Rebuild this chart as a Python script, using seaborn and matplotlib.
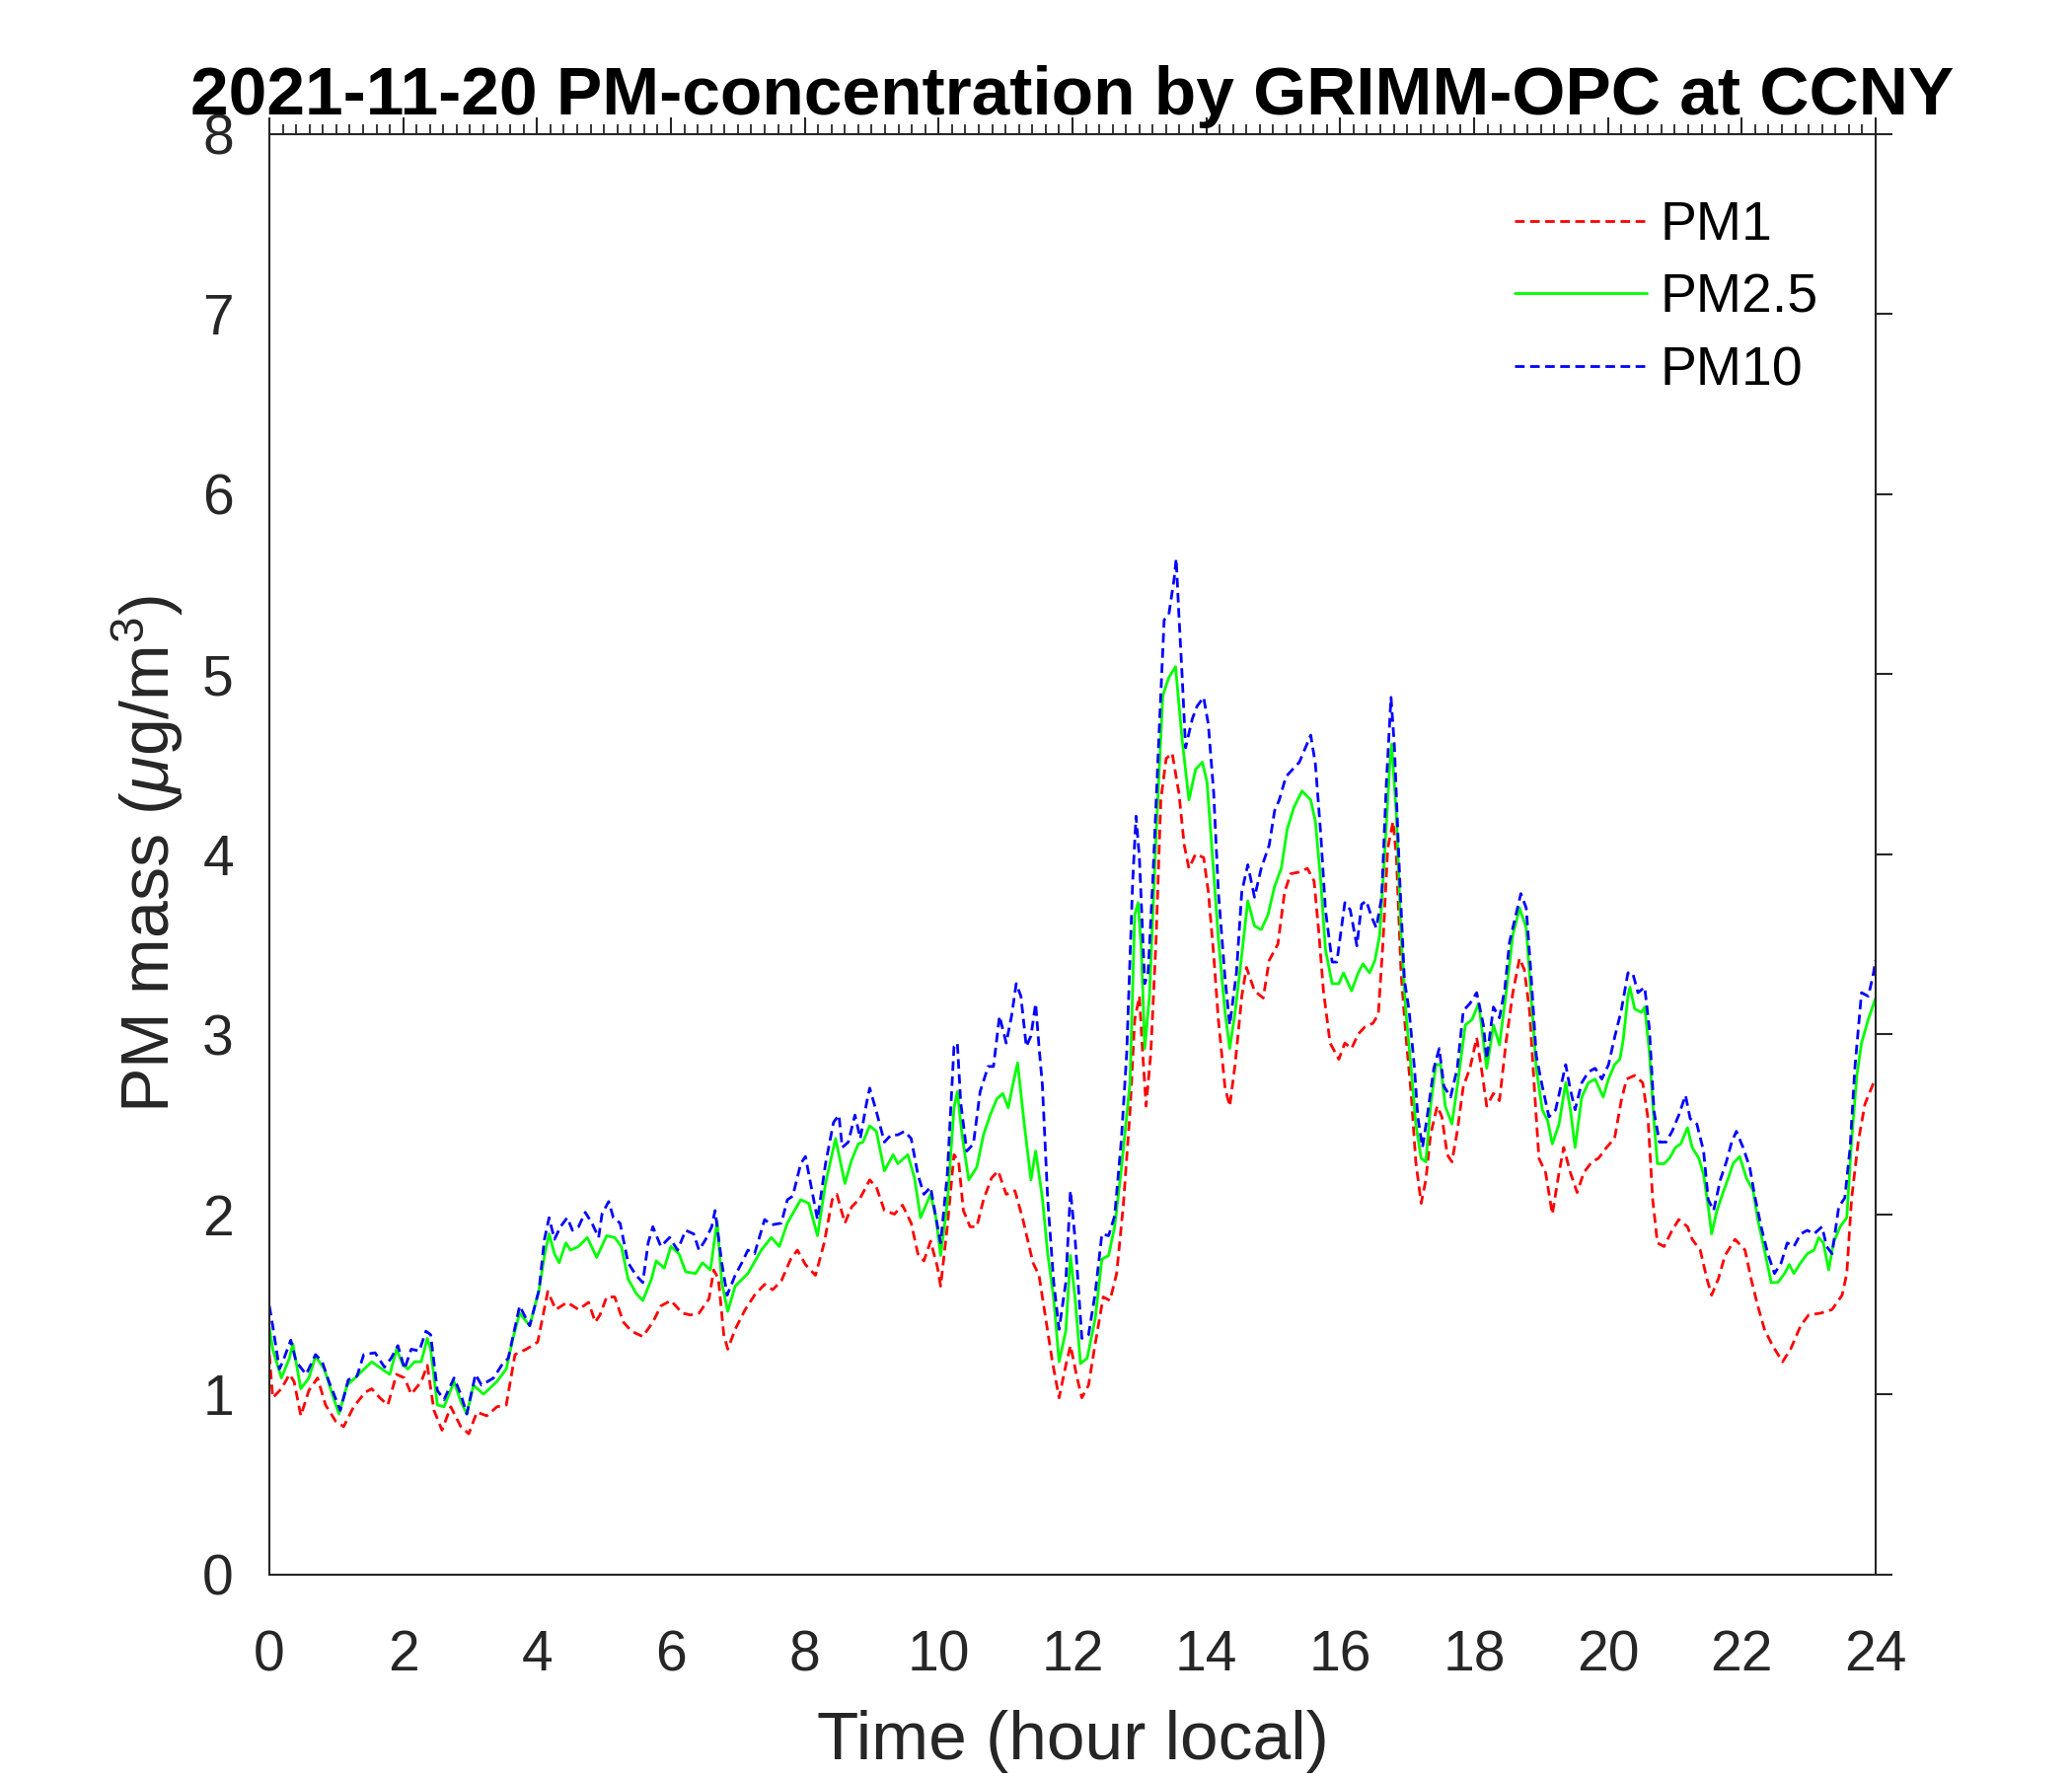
import matplotlib
matplotlib.use("Agg")
import matplotlib.pyplot as plt
from matplotlib.ticker import MultipleLocator
import seaborn as sns

# ── data ──────────────────────────────────────────────────
t_pm25 = [0.00, 0.05, 0.18, 0.30, 0.35, 0.47, 0.59, 0.69, 0.82, 0.94, 1.04, 1.16, 1.28, 1.53, 1.68, 1.80,
          1.90, 2.00, 2.07, 2.17, 2.27, 2.36, 2.41, 2.51, 2.61, 2.76, 2.86, 2.95, 3.05, 3.20, 3.40, 3.54,
          3.64, 3.74, 3.89, 4.03, 4.11, 4.18, 4.26, 4.33, 4.43, 4.50, 4.62, 4.75, 4.89, 5.04, 5.16, 5.26,
          5.36, 5.48, 5.58, 5.71, 5.78, 5.90, 6.00, 6.12, 6.22, 6.37, 6.47, 6.59, 6.69, 6.76, 6.85, 6.96,
          7.15, 7.35, 7.50, 7.62, 7.74, 7.94, 8.06, 8.19, 8.31, 8.46, 8.60, 8.70, 8.80, 8.87, 8.97, 9.07,
          9.19, 9.32, 9.39, 9.54, 9.64, 9.73, 9.88, 9.96, 10.03, 10.13, 10.23, 10.28, 10.35, 10.45, 10.57,
          10.67, 10.77, 10.87, 10.96, 11.04, 11.11, 11.18, 11.28, 11.38, 11.45, 11.55, 11.63, 11.72, 11.80,
          11.90, 11.97, 12.04, 12.12, 12.22, 12.34, 12.44, 12.54, 12.63, 12.73, 12.86, 12.93, 12.98, 13.03,
          13.08, 13.15, 13.25, 13.35, 13.44, 13.54, 13.64, 13.74, 13.84, 13.94, 14.01, 14.08, 14.18, 14.28,
          14.35, 14.43, 14.53, 14.62, 14.72, 14.82, 14.92, 15.02, 15.12, 15.21, 15.31, 15.43, 15.56, 15.63,
          15.71, 15.78, 15.88, 15.98, 16.05, 16.17, 16.27, 16.34, 16.44, 16.52, 16.59, 16.66, 16.74, 16.77,
          16.84, 16.91, 16.98, 17.06, 17.13, 17.21, 17.28, 17.35, 17.43, 17.50, 17.57, 17.67, 17.75, 17.87,
          17.97, 18.07, 18.14, 18.19, 18.29, 18.38, 18.48, 18.58, 18.68, 18.78, 18.85, 18.93, 19.02, 19.10,
          19.17, 19.27, 19.37, 19.44, 19.51, 19.61, 19.71, 19.81, 19.93, 20.01, 20.10, 20.18, 20.23, 20.30,
          20.33, 20.40, 20.50, 20.55, 20.62, 20.69, 20.74, 20.84, 20.92, 21.01, 21.09, 21.19, 21.26, 21.36,
          21.43, 21.50, 21.55, 21.63, 21.73, 21.80, 21.87, 21.97, 22.07, 22.17, 22.24, 22.34, 22.44, 22.54,
          22.64, 22.71, 22.78, 22.88, 22.98, 23.08, 23.15, 23.22, 23.30, 23.37, 23.47, 23.57, 23.64, 23.72,
          23.79, 23.89, 23.99, 24.00]
pm25 = [1.37, 1.25, 1.09, 1.20, 1.28, 1.03, 1.09, 1.21, 1.14, 1.00, 0.89, 1.05, 1.09, 1.18, 1.14, 1.11,
        1.25, 1.16, 1.14, 1.18, 1.18, 1.31, 1.25, 0.94, 0.93, 1.07, 0.96, 0.89, 1.05, 1.00, 1.07, 1.14,
        1.31, 1.45, 1.38, 1.58, 1.77, 1.89, 1.78, 1.73, 1.84, 1.80, 1.82, 1.87, 1.76, 1.88, 1.87, 1.82,
        1.64, 1.56, 1.52, 1.64, 1.74, 1.70, 1.82, 1.78, 1.68, 1.67, 1.73, 1.69, 1.96, 1.62, 1.46, 1.60,
        1.67, 1.80, 1.87, 1.82, 1.95, 2.08, 2.06, 1.88, 2.17, 2.42, 2.17, 2.30, 2.39, 2.40, 2.49, 2.46,
        2.24, 2.33, 2.28, 2.33, 2.20, 1.98, 2.11, 1.98, 1.77, 2.06, 2.59, 2.68, 2.44, 2.19, 2.26,
        2.44, 2.55, 2.64, 2.67, 2.59, 2.72, 2.84, 2.50, 2.19, 2.35, 2.09, 1.78, 1.53, 1.18,
        1.35, 1.77, 1.53, 1.17, 1.20, 1.42, 1.75, 1.77, 1.93, 2.25, 2.73, 3.66, 3.73, 3.47,
        2.92, 3.21, 4.11, 4.88, 4.98, 5.04, 4.63, 4.30, 4.47, 4.51, 4.40, 4.05, 3.53, 3.12,
        2.92, 3.12, 3.44, 3.74, 3.60, 3.58, 3.66, 3.82, 3.92, 4.14, 4.26, 4.35, 4.30, 4.18,
        3.85, 3.47, 3.28, 3.28, 3.34, 3.24, 3.34, 3.39, 3.34, 3.41, 3.55, 3.97, 4.49, 4.61,
        4.22, 3.55, 3.13, 2.81, 2.50, 2.31, 2.29, 2.60, 2.83, 2.83, 2.60, 2.50, 2.71, 3.05,
        3.08, 3.17, 2.96, 2.81, 3.05, 2.94, 3.23, 3.55, 3.70, 3.59, 3.23, 2.81, 2.58, 2.52,
        2.39, 2.50, 2.73, 2.58, 2.37, 2.65, 2.73, 2.75, 2.65, 2.75, 2.83, 2.86, 2.97, 3.21,
        3.26, 3.14, 3.12, 3.15, 2.90, 2.51, 2.28, 2.28, 2.31, 2.37, 2.39, 2.48, 2.37, 2.31,
        2.22, 2.04, 1.89, 2.02, 2.13, 2.20, 2.28, 2.32, 2.20, 2.13, 1.97, 1.80, 1.62, 1.62,
        1.67, 1.72, 1.67, 1.73, 1.78, 1.80, 1.87, 1.84, 1.69, 1.84, 1.93, 1.98, 2.40, 2.77,
        2.95, 3.08, 3.19, 3.20]

t_pm10 = [0.00, 0.05, 0.15, 0.20, 0.32, 0.40, 0.55, 0.69, 0.79, 0.89, 1.06, 1.18, 1.31, 1.41, 1.58, 1.72,
          1.82, 1.92, 2.02, 2.12, 2.24, 2.34, 2.41, 2.51, 2.61, 2.76, 2.86, 2.95, 3.08, 3.17, 3.35, 3.47,
          3.57, 3.74, 3.89, 4.03, 4.11, 4.18, 4.26, 4.35, 4.45, 4.53, 4.62, 4.72, 4.82, 4.92, 4.97, 5.07,
          5.14, 5.24, 5.36, 5.48, 5.58, 5.66, 5.73, 5.85, 5.98, 6.10, 6.22, 6.34, 6.42, 6.52, 6.61, 6.66,
          6.76, 6.84, 6.96, 7.06, 7.15, 7.25, 7.40, 7.50, 7.65, 7.74, 7.82, 7.94, 8.01, 8.19, 8.31, 8.43,
          8.51, 8.56, 8.65, 8.75, 8.83, 8.92, 8.97, 9.07, 9.19, 9.29, 9.39, 9.49, 9.59, 9.69, 9.78, 9.88,
          9.96, 10.03, 10.13, 10.23, 10.28, 10.33, 10.42, 10.52, 10.62, 10.74, 10.82, 10.91, 11.01, 11.09,
          11.16, 11.23, 11.31, 11.38, 11.45, 11.50, 11.55, 11.63, 11.72, 11.80, 11.90, 11.97, 12.04, 12.14,
          12.24, 12.34, 12.44, 12.54, 12.63, 12.73, 12.81, 12.90, 12.95, 13.00, 13.08, 13.13, 13.20, 13.30,
          13.37, 13.44, 13.52, 13.55, 13.59, 13.64, 13.69, 13.79, 13.86, 13.96, 14.03, 14.11, 14.18, 14.28,
          14.35, 14.45, 14.53, 14.62, 14.72, 14.82, 14.94, 15.02, 15.09, 15.19, 15.29, 15.39, 15.48, 15.56,
          15.63, 15.71, 15.78, 15.88, 15.95, 16.07, 16.15, 16.25, 16.32, 16.39, 16.47, 16.54, 16.62, 16.69,
          16.76, 16.81, 16.89, 16.96, 17.03, 17.11, 17.16, 17.23, 17.30, 17.40, 17.48, 17.55, 17.65, 17.75,
          17.84, 17.94, 18.04, 18.14, 18.19, 18.29, 18.38, 18.46, 18.53, 18.63, 18.70, 18.78, 18.85, 18.93,
          19.02, 19.12, 19.22, 19.37, 19.44, 19.51, 19.61, 19.71, 19.81, 19.91, 20.01, 20.10, 20.20, 20.30,
          20.37, 20.45, 20.55, 20.62, 20.69, 20.77, 20.87, 20.96, 21.06, 21.16, 21.23, 21.33, 21.43, 21.50,
          21.58, 21.68, 21.77, 21.85, 21.92, 22.02, 22.12, 22.19, 22.29, 22.39, 22.49, 22.59, 22.68, 22.78,
          22.88, 22.98, 23.08, 23.20, 23.27, 23.35, 23.45, 23.54, 23.62, 23.69, 23.79, 23.89, 23.96, 24.00]
pm10 = [1.49, 1.38, 1.14, 1.18, 1.30, 1.18, 1.11, 1.22, 1.18, 1.07, 0.91, 1.08, 1.10, 1.22, 1.23, 1.15,
        1.20, 1.27, 1.14, 1.25, 1.24, 1.35, 1.33, 1.02, 0.97, 1.09, 1.00, 0.89, 1.11, 1.05, 1.09, 1.16,
        1.20, 1.49, 1.38, 1.58, 1.86, 1.98, 1.86, 1.93, 1.98, 1.91, 1.93, 2.01, 1.95, 1.87, 2.00, 2.07,
        1.98, 1.95, 1.73, 1.66, 1.62, 1.84, 1.93, 1.82, 1.87, 1.80, 1.91, 1.89, 1.80, 1.86, 1.93, 2.02,
        1.73, 1.55, 1.66, 1.73, 1.80, 1.78, 1.97, 1.94, 1.95, 2.08, 2.10, 2.28, 2.32, 1.97, 2.28, 2.51,
        2.55, 2.37, 2.40, 2.55, 2.42, 2.61, 2.70, 2.57, 2.40, 2.44, 2.44, 2.46, 2.42, 2.22, 2.11, 2.15,
        1.98, 1.84, 2.22, 2.93, 2.95, 2.62, 2.35, 2.39, 2.68, 2.82, 2.82, 3.10, 2.95, 3.10,
        3.28, 3.21, 2.93, 2.99, 3.17, 2.93, 2.72, 2.08, 1.62, 1.36, 1.62, 2.13, 1.86, 1.31,
        1.33, 1.56, 1.89, 1.88, 1.99, 2.41, 2.89, 3.85, 4.21, 3.98, 3.28, 3.34, 3.85, 4.72,
        5.30, 5.33, 5.53, 5.64, 5.33, 4.98, 4.59, 4.75, 4.82, 4.87, 4.72, 4.34, 3.79, 3.31,
        3.05, 3.34, 3.79, 3.94, 3.76, 3.92, 4.05, 4.24, 4.30, 4.43, 4.47, 4.51, 4.59, 4.66,
        4.50, 4.11, 3.69, 3.40, 3.40, 3.73, 3.69, 3.49, 3.72, 3.74, 3.65, 3.59, 3.76, 4.39,
        4.87, 4.60, 3.86, 3.30, 3.13, 2.81, 2.54, 2.37, 2.54, 2.81, 2.92, 2.71, 2.65, 2.81,
        3.13, 3.17, 3.23, 3.05, 2.86, 3.15, 3.09, 3.25, 3.51, 3.67, 3.78, 3.70, 3.34, 2.88,
        2.71, 2.54, 2.58, 2.83, 2.69, 2.58, 2.73, 2.79, 2.81, 2.75, 2.83, 2.98, 3.13, 3.34,
        3.34, 3.23, 3.26, 3.03, 2.57, 2.40, 2.40, 2.46, 2.55, 2.66, 2.53, 2.50, 2.35, 2.08,
        2.02, 2.19, 2.29, 2.40, 2.46, 2.37, 2.26, 2.11, 1.93, 1.78, 1.67, 1.73, 1.84, 1.82,
        1.89, 1.91, 1.89, 1.93, 1.82, 1.78, 2.04, 2.09, 2.37, 2.81, 3.23, 3.21, 3.32, 3.41]

t_pm1 = [0.00, 0.05, 0.18, 0.30, 0.37, 0.47, 0.59, 0.72, 0.84, 0.99, 1.11, 1.26, 1.43, 1.53, 1.65, 1.77,
         1.90, 2.02, 2.12, 2.27, 2.36, 2.46, 2.58, 2.71, 2.86, 2.98, 3.10, 3.25, 3.40, 3.54, 3.67, 3.84,
         4.01, 4.16, 4.28, 4.45, 4.62, 4.77, 4.87, 4.94, 5.04, 5.16, 5.29, 5.41, 5.58, 5.73, 5.85, 6.00,
         6.17, 6.29, 6.42, 6.57, 6.64, 6.71, 6.79, 6.85, 6.96, 7.11, 7.25, 7.40, 7.52, 7.65, 7.79, 7.89,
         8.01, 8.16, 8.29, 8.41, 8.48, 8.60, 8.70, 8.83, 8.97, 9.07, 9.19, 9.34, 9.46, 9.59, 9.69, 9.78,
         9.88, 9.98, 10.03, 10.13, 10.23, 10.30, 10.37, 10.47, 10.57, 10.67, 10.79, 10.89, 11.01, 11.14,
         11.26, 11.41, 11.50, 11.60, 11.70, 11.80, 11.90, 11.97, 12.07, 12.14, 12.24, 12.34, 12.46, 12.56,
         12.66, 12.76, 12.86, 12.93, 13.00, 13.05, 13.10, 13.17, 13.25, 13.32, 13.40, 13.49, 13.59, 13.67,
         13.74, 13.84, 13.96, 14.03, 14.11, 14.18, 14.28, 14.35, 14.43, 14.53, 14.60, 14.72, 14.85, 14.94,
         15.07, 15.17, 15.26, 15.39, 15.51, 15.61, 15.68, 15.75, 15.85, 15.98, 16.07, 16.17, 16.27, 16.37,
         16.49, 16.57, 16.64, 16.71, 16.79, 16.84, 16.91, 16.98, 17.06, 17.13, 17.21, 17.28, 17.35, 17.45,
         17.52, 17.60, 17.67, 17.75, 17.84, 17.94, 18.04, 18.11, 18.19, 18.29, 18.38, 18.48, 18.58, 18.68,
         18.75, 18.83, 18.90, 18.97, 19.07, 19.17, 19.27, 19.34, 19.44, 19.54, 19.64, 19.76, 19.86, 19.98,
         20.10, 20.20, 20.28, 20.40, 20.52, 20.60, 20.67, 20.74, 20.84, 20.96, 21.06, 21.19, 21.26, 21.38,
         21.48, 21.55, 21.65, 21.75, 21.90, 22.05, 22.14, 22.24, 22.34, 22.46, 22.61, 22.73, 22.88, 23.00,
         23.18, 23.35, 23.50, 23.57, 23.64, 23.74, 23.84, 23.96, 24.00]
pm1 = [1.22, 0.98, 1.03, 1.11, 1.07, 0.88, 1.02, 1.09, 0.94, 0.85, 0.82, 0.93, 1.01, 1.03, 0.98, 0.94,
       1.11, 1.09, 1.00, 1.07, 1.16, 0.91, 0.80, 0.93, 0.82, 0.78, 0.90, 0.88, 0.93, 0.94, 1.22, 1.25,
       1.29, 1.57, 1.47, 1.51, 1.47, 1.51, 1.40, 1.44, 1.54, 1.54, 1.40, 1.35, 1.32, 1.40, 1.49, 1.52,
       1.45, 1.44, 1.45, 1.53, 1.69, 1.64, 1.33, 1.25, 1.36, 1.47, 1.55, 1.61, 1.58, 1.63, 1.75, 1.80,
       1.72, 1.66, 1.84, 2.08, 2.11, 1.95, 2.04, 2.09, 2.19, 2.15, 2.02, 2.00, 2.05, 1.95, 1.78, 1.74,
       1.85, 1.71, 1.60, 1.93, 2.33, 2.29, 2.02, 1.93, 1.93, 2.08, 2.20, 2.24, 2.11, 2.13,
       1.97, 1.73, 1.66, 1.42, 1.18, 0.98, 1.16, 1.27, 1.09, 0.98, 1.05, 1.28, 1.54, 1.52,
       1.67, 2.05, 2.57, 3.08, 3.21, 2.89, 2.60, 2.89, 3.53, 4.30, 4.53, 4.56, 4.34, 4.05,
       3.92, 4.00, 3.98, 3.79, 3.44, 3.08, 2.70, 2.60, 2.83, 3.21, 3.37, 3.24, 3.20, 3.41,
       3.50, 3.79, 3.89, 3.90, 3.92, 3.85, 3.57, 3.24, 2.95, 2.86, 2.95, 2.92, 3.00, 3.04,
       3.06, 3.11, 3.51, 4.03, 4.18, 3.99, 3.34, 3.00, 2.67, 2.29, 2.06, 2.19, 2.44, 2.60,
       2.54, 2.33, 2.29, 2.46, 2.71, 2.81, 2.98, 2.81, 2.60, 2.67, 2.63, 2.96, 3.23, 3.42,
       3.36, 3.13, 2.71, 2.31, 2.23, 2.00, 2.23, 2.37, 2.23, 2.12, 2.23, 2.29, 2.31, 2.37,
       2.42, 2.63, 2.75, 2.77, 2.73, 2.53, 2.08, 1.84, 1.82, 1.91, 1.97, 1.93, 1.86, 1.80,
       1.64, 1.55, 1.64, 1.77, 1.86, 1.80, 1.64, 1.49, 1.36, 1.27, 1.18, 1.25, 1.38, 1.44,
       1.45, 1.47, 1.55, 1.67, 2.08, 2.40, 2.61, 2.72, 2.75]

hour_ticks = list(range(0, 25, 2))
pm_ticks = list(range(0, 9))

TITLE = "2021-11-20 PM-concentration by GRIMM-OPC at CCNY"

# ── style ─────────────────────────────────────────────────
sns.set_theme(style="white")
plt.rcParams["font.family"] = ["Liberation Sans", "DejaVu Sans"]
plt.rcParams["mathtext.fontset"] = "custom"
plt.rcParams["mathtext.rm"] = "Liberation Sans"
plt.rcParams["mathtext.it"] = "Liberation Sans:italic"

AX_COLOR = "#262626"

fig = plt.figure(figsize=(21, 18), dpi=100)
ax = fig.add_axes([0.130, 0.1136, 0.7752, 0.8111])

lw = 2.0
sns.lineplot(x=t_pm1, y=pm1, ax=ax, color=(1, 0, 0), linewidth=lw, label="PM1",
             estimator=None, sort=False)
sns.lineplot(x=t_pm25, y=pm25, ax=ax, color=(0, 1, 0), linewidth=lw, label="PM2.5",
             estimator=None, sort=False)
sns.lineplot(x=t_pm10, y=pm10, ax=ax, color=(0, 0, 1), linewidth=lw, label="PM10",
             estimator=None, sort=False)
ax.lines[0].set_dashes((3.5, 2.0))
ax.lines[2].set_dashes((3.5, 2.0))

ax.set_xlim(0, 24)
ax.set_ylim(0, 8)
ax.set_xticks(hour_ticks)
ax.set_yticks(pm_ticks)
ax.xaxis.set_minor_locator(MultipleLocator(0.2))

for side in ["top", "bottom", "left", "right"]:
    ax.spines[side].set_visible(True)
    ax.spines[side].set_color(AX_COLOR)
    ax.spines[side].set_linewidth(1.5)

ax.tick_params(axis="both", which="both", direction="out", colors=AX_COLOR,
               top=True, right=True, labeltop=False, labelright=False)
ax.tick_params(axis="both", which="major", length=12, width=1.5, labelsize=41)
ax.tick_params(axis="x", which="major", pad=28)
ax.tick_params(axis="y", which="major", pad=14)
ax.tick_params(axis="x", which="minor", length=7, width=1.3)
ax.tick_params(axis="y", which="minor", left=False, right=False)

ax.set_xlabel("Time (hour local)", fontsize=50, color=AX_COLOR)
ax.set_ylabel(r"PM mass ($\mu$g/m$^3$)", fontsize=49, color=AX_COLOR)
ax.xaxis.set_label_coords(0.5, -0.094)
ax.yaxis.set_label_coords(-0.052, 0.5)

ax.set_title(TITLE, fontsize=50, fontweight="bold", color="black", y=1.008)

leg = ax.legend(loc="upper right", bbox_to_anchor=(0.978, 0.969), frameon=False,
                fontsize=40, handlelength=2.4, handletextpad=0.25, labelspacing=0.39,
                borderaxespad=0.0)
for txt in leg.get_texts():
    txt.set_color("black")

fig.savefig("out.png", dpi=100, facecolor="white")
